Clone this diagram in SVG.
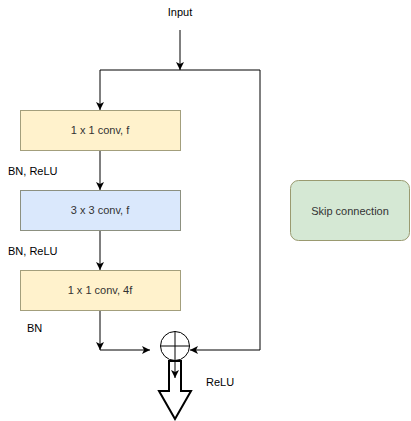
<svg xmlns="http://www.w3.org/2000/svg" width="411" height="421" viewBox="0 0 411 421">
<style>
  .lbl{font-family:"Liberation Sans",Arial,sans-serif;font-size:11px;fill:#000}
  .box{font-family:"Liberation Sans",Arial,sans-serif;font-size:11px;fill:#333;text-anchor:middle}
  .c{fill:none;stroke:#000;stroke-width:1}
</style>
<defs>
  <marker id="ah" viewBox="0 0 8 8" refX="8" refY="4" markerWidth="8" markerHeight="8" markerUnits="userSpaceOnUse" orient="auto">
    <path d="M0,0 L8,4 L0,8 L2,4 z" fill="#000"/>
  </marker>
</defs>
<rect width="411" height="421" fill="#fff"/>
<g id="connectors">
  <path class="c" d="M180,30 V70" marker-end="url(#ah)"/>
  <path class="c" d="M100,70 H260 V350 H190" marker-end="url(#ah)"/>
  <path class="c" d="M100,70 V110" marker-end="url(#ah)"/>
  <path class="c" d="M100,150 V190" marker-end="url(#ah)"/>
  <path class="c" d="M100,230 V270" marker-end="url(#ah)"/>
  <path class="c" d="M100,310 V350" marker-end="url(#ah)"/>
  <path class="c" d="M100,350 H150" marker-end="url(#ah)"/>
</g>
<g id="input"><text class="lbl" x="180" y="16" text-anchor="middle">Input</text></g>
<g id="conv1">
  <rect x="20.5" y="110.5" width="160" height="40" fill="#fff2cc" stroke="#a39f7c"/>
  <text class="box" x="100" y="134">1 x 1 conv, f</text>
</g>
<g id="bn1"><text class="lbl" x="8" y="175">BN, ReLU</text></g>
<g id="conv2">
  <rect x="20.5" y="190.5" width="160" height="40" fill="#dae8fc" stroke="#8c9080"/>
  <text class="box" x="100" y="214">3 x 3 conv, f</text>
</g>
<g id="bn2"><text class="lbl" x="8" y="255">BN, ReLU</text></g>
<g id="conv3">
  <rect x="20.5" y="270.5" width="160" height="40" fill="#fff2cc" stroke="#a39f7c"/>
  <text class="box" x="100" y="294">1 x 1 conv, 4f</text>
</g>
<g id="bn3"><text class="lbl" x="27" y="332">BN</text></g>
<g id="sum">
  <circle cx="175" cy="346" r="14.5" fill="#fff" stroke="#000"/>
  <path class="c" d="M160.5,346 H189.5 M175,331.5 V360.5"/>
</g>
<g id="output">
  <polygon points="169,361 181,361 181,391 191,391 175,419 159,391 169,391" fill="#fff" stroke="#000" stroke-width="2"/>
  <path class="c" d="M175,361 V378" marker-end="url(#ah)"/>
</g>
<g id="relu"><text class="lbl" x="206" y="386">ReLU</text></g>
<g id="skip">
  <rect x="290.5" y="180.5" width="119" height="60" rx="8" fill="#d5e8d4" stroke="#9a9a70"/>
  <text class="box" x="350" y="215">Skip connection</text>
</g>
</svg>
